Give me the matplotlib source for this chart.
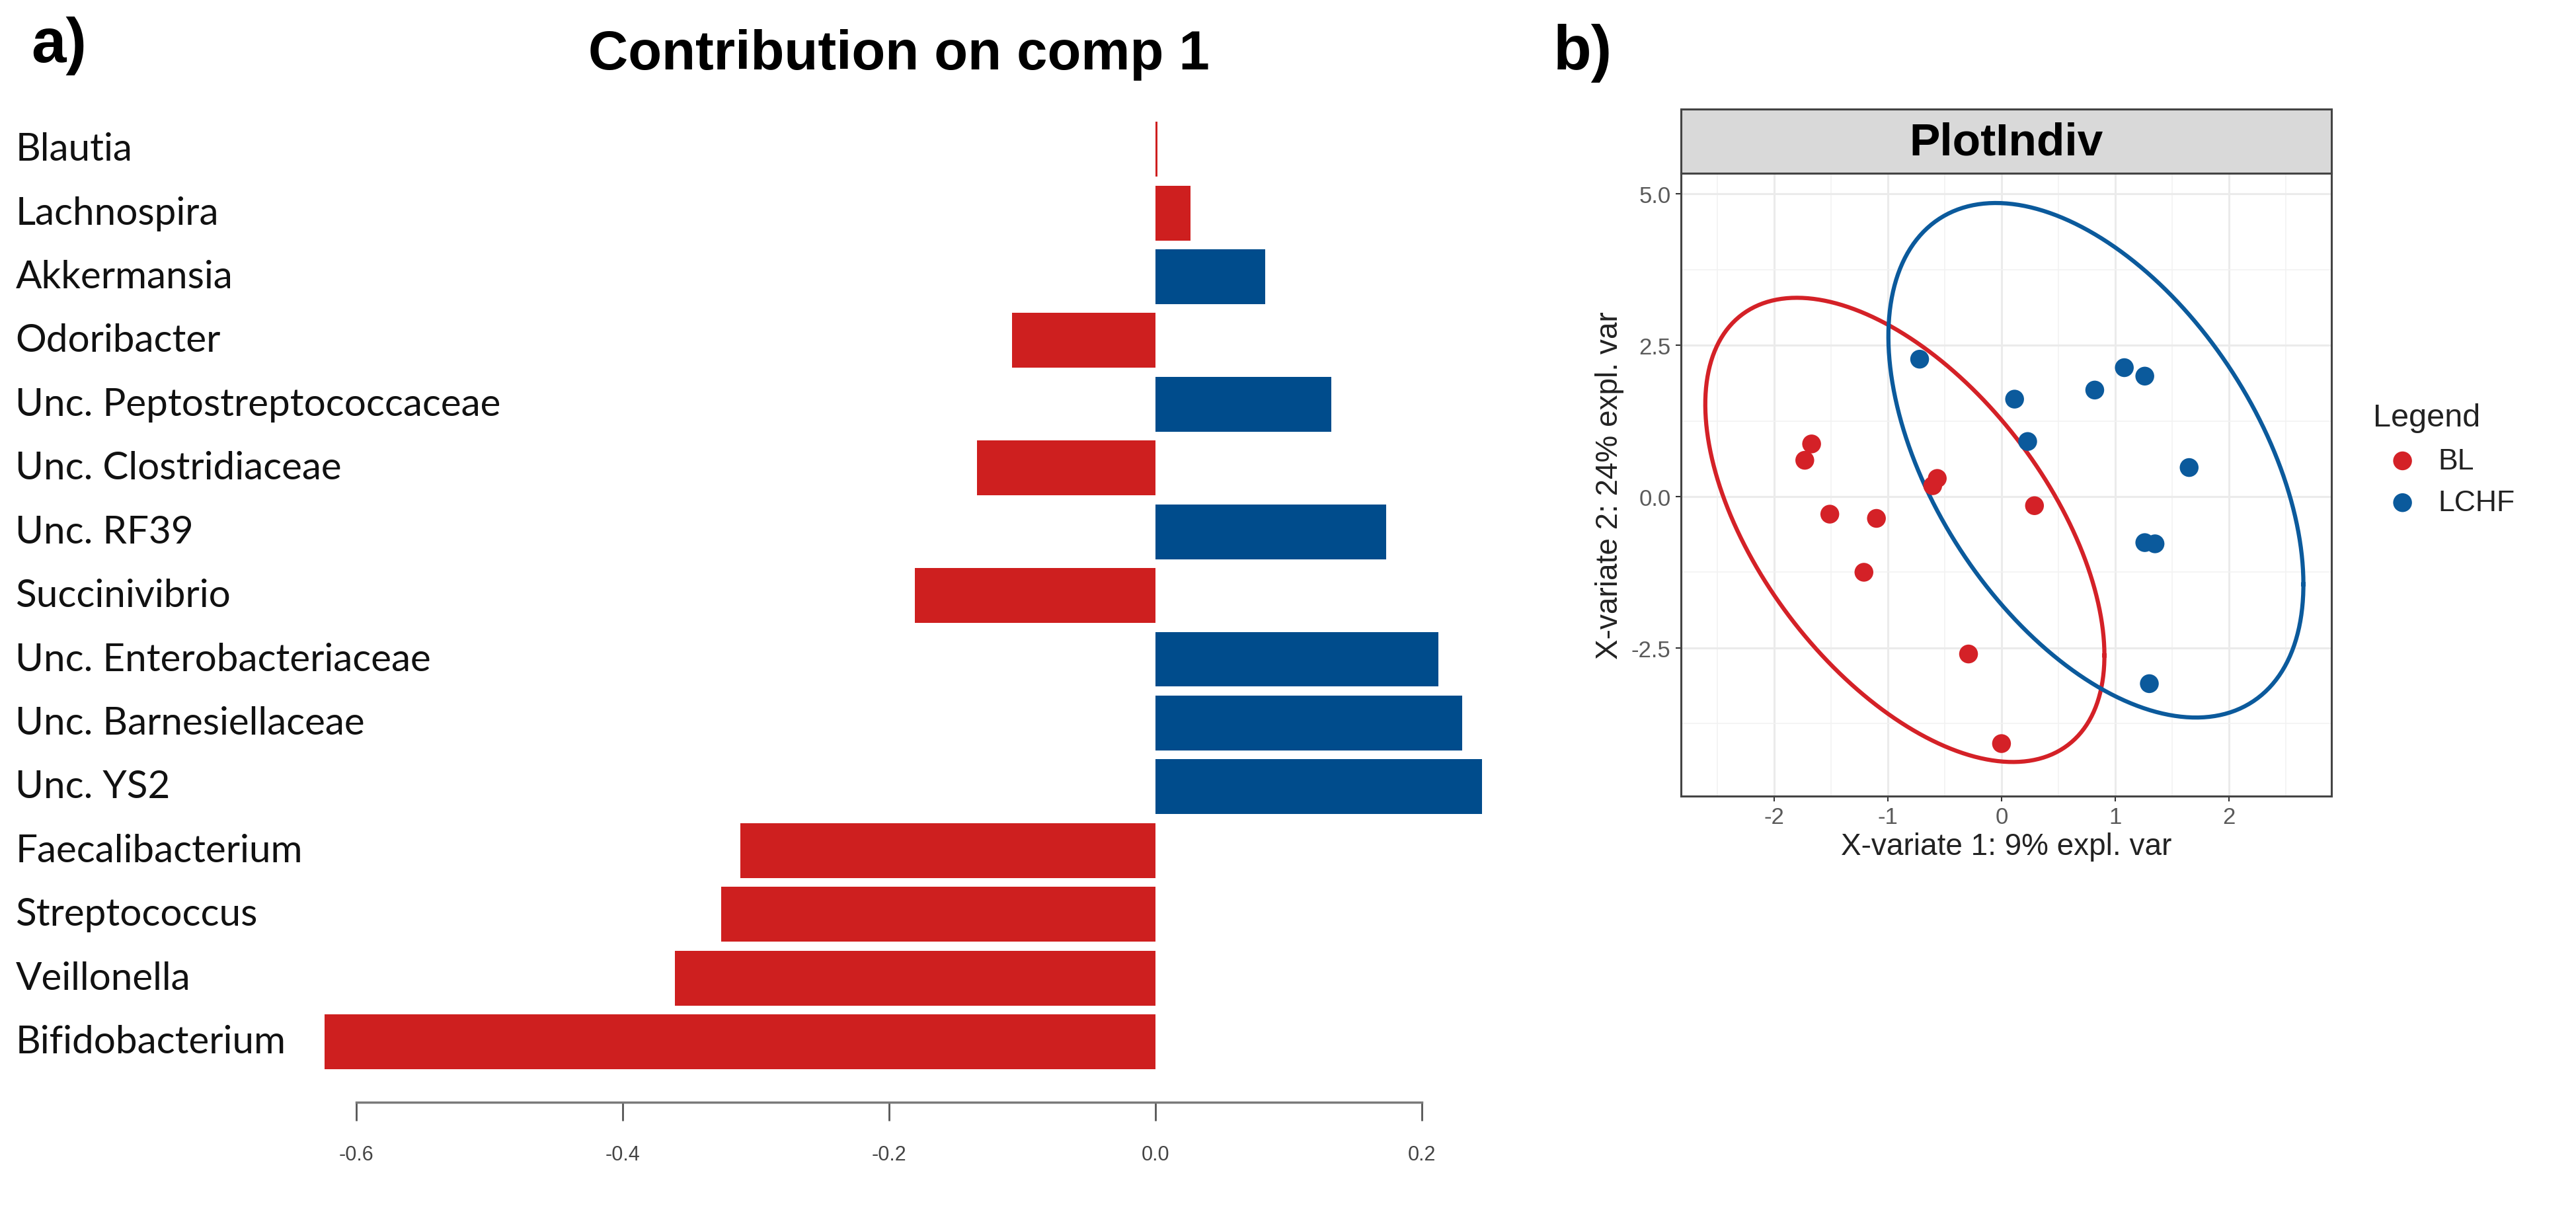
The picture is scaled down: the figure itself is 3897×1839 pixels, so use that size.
import numpy as np
import matplotlib
matplotlib.use("Agg")
import matplotlib.pyplot as plt
import matplotlib.transforms as mtransforms

# Panel a data: loadings on component 1 (top to bottom)
taxa = ["Blautia", "Lachnospira", "Akkermansia", "Odoribacter",
        "Unc. Peptostreptococcaceae", "Unc. Clostridiaceae", "Unc. RF39",
        "Succinivibrio", "Unc. Enterobacteriaceae", "Unc. Barnesiellaceae",
        "Unc. YS2", "Faecalibacterium", "Streptococcus", "Veillonella",
        "Bifidobacterium"]
contrib = [0.0015, 0.026, 0.082, -0.108, 0.132, -0.134, 0.173, -0.181,
           0.212, 0.230, 0.245, -0.312, -0.326, -0.361, -0.624]
group_max = ["BL", "BL", "LCHF", "BL", "LCHF", "BL", "LCHF", "BL",
             "LCHF", "LCHF", "LCHF", "BL", "BL", "BL", "BL"]
xticks_a = [-0.6, -0.4, -0.2, 0.0, 0.2]

# Panel b data: sample scores
bl_x = [-1.73, -1.67, -1.51, -1.10, -1.21, -0.605, -0.565, 0.29, -0.29, 0.0]
bl_y = [0.60, 0.87, -0.29, -0.36, -1.25, 0.18, 0.30, -0.15, -2.60, -4.08]
lchf_x = [-0.72, 0.115, 0.23, 0.82, 1.08, 1.26, 1.65, 1.26, 1.35, 1.30]
lchf_y = [2.27, 1.61, 0.91, 1.76, 2.13, 1.99, 0.48, -0.76, -0.78, -3.09]
# confidence ellipses: centre and covariance-like matrix (xx, xy, yy)
bl_centre = (-0.85, -0.55)
bl_cov = (3.08, -3.64, 14.7)
lchf_centre = (0.83, 0.60)
lchf_cov = (3.33, -3.74, 18.06)

red_bar = "#CE1F1F"
blue_bar = "#004C8C"
red_pt = "#D42127"
blue_pt = "#0B5A9C"

fig = plt.figure(figsize=(38.97, 18.4), dpi=100)

# ---------------- panel a ----------------
ax = fig.add_axes([0.1125, 0.117, 0.4706, 0.786])
ypos = np.arange(len(taxa))[::-1]
cols = [red_bar if g == "BL" else blue_bar for g in group_max]
ax.barh(ypos, contrib, height=0.86, color=cols, edgecolor="none")
ax.set_xlim(-0.65, 0.26)
ax.set_ylim(-0.5, len(taxa) - 0.5)
for s in ["top", "right", "left"]:
    ax.spines[s].set_visible(False)
ax.spines["bottom"].set_position(("outward", 31))
ax.spines["bottom"].set_bounds(-0.6, 0.2)
ax.spines["bottom"].set_color("#7a7a7a")
ax.spines["bottom"].set_linewidth(2.5)
ax.set_xticks(xticks_a)
ax.set_xticklabels(["%.1f" % v for v in xticks_a], family=["Liberation Sans Narrow", "Liberation Sans"],
                   fontsize=22, color="#444444")
ax.tick_params(axis="x", length=20, width=2, color="#555555", pad=26)
ax.set_yticks([])

trans = mtransforms.blended_transform_factory(fig.transFigure, ax.transData)
for name, y in zip(taxa, ypos):
    ax.text(0.006, y, name, transform=trans, ha="left", va="center",
            fontsize=42, family=["Lato", "DejaVu Sans"], color="#111111")

fig.text(0.349, 0.955, "Contribution on comp 1", ha="center", va="center",
         fontsize=60, fontweight="bold", family="Liberation Sans")
fig.text(0.012, 0.962, "a)", ha="left", va="center", fontsize=68,
         fontweight="bold", family="Liberation Sans")
fig.text(0.603, 0.956, "b)", ha="left", va="center", fontsize=68,
         fontweight="bold", family="Liberation Sans")

# ---------------- panel b ----------------
bx = fig.add_axes([0.6525, 0.345, 0.2525, 0.512])
bx.set_xlim(-2.82, 2.90)
bx.set_ylim(-4.95, 5.34)
bx.set_xticks([-2, -1, 0, 1, 2])
bx.set_yticks([-2.5, 0.0, 2.5, 5.0])
bx.set_xticks([-2.5, -1.5, -0.5, 0.5, 1.5, 2.5], minor=True)
bx.set_yticks([-3.75, -1.25, 1.25, 3.75], minor=True)
bx.grid(True, which="major", color="#EBEBEB", linewidth=2.2)
bx.grid(True, which="minor", color="#F2F2F2", linewidth=1.2)
bx.set_axisbelow(True)
bx.tick_params(which="minor", length=0)
bx.tick_params(which="major", length=6, width=1.5, color="#333333",
               labelsize=25, labelcolor="#5a5a5a", pad=5)
bx.set_yticklabels(["-2.5", "0.0", "2.5", "5.0"])
bx.set_xticklabels(["-2", "-1", "0", "1", "2"])
for lab in bx.get_xticklabels() + bx.get_yticklabels():
    lab.set_family("Liberation Sans")
for s in bx.spines.values():
    s.set_color("#444444")
    s.set_linewidth(2.2)

t = np.linspace(0, 2 * np.pi, 400)
for centre, cov, c in [(bl_centre, bl_cov, red_pt), (lchf_centre, lchf_cov, blue_pt)]:
    a, b, d = cov
    L = np.array([[np.sqrt(a), 0.0], [b / np.sqrt(a), np.sqrt(d - b * b / a)]])
    pts = L @ np.vstack([np.cos(t), np.sin(t)])
    bx.plot(pts[0] + centre[0], pts[1] + centre[1], color=c, linewidth=4.5)

bx.scatter(bl_x, bl_y, s=420, color=red_pt, edgecolor="none", label="BL", zorder=3)
bx.scatter(lchf_x, lchf_y, s=420, color=blue_pt, edgecolor="none", label="LCHF", zorder=3)

bx.set_xlabel("X-variate 1: 9% expl. var", fontsize=33, family="Liberation Sans",
              color="#222222", labelpad=4)
bx.set_ylabel("X-variate 2: 24% expl. var", fontsize=33, family="Liberation Sans",
              color="#222222", labelpad=8)

leg = bx.legend(title="Legend", loc="upper left", bbox_to_anchor=(0.911, 0.69),
                bbox_transform=fig.transFigure, frameon=False, fontsize=32,
                title_fontsize=35, handletextpad=0.2, labelspacing=0.5,
                markerscale=1.0)
leg._legend_box.align = "left"
for txt in leg.get_texts():
    txt.set_family("Liberation Sans")
    txt.set_color("#222222")
leg.get_title().set_family("Liberation Sans")
leg.get_title().set_color("#222222")

# strip on top of the panel
sx = fig.add_axes([0.6525, 0.857, 0.2525, 0.053])
sx.set_facecolor("#D9D9D9")
sx.set_xticks([])
sx.set_yticks([])
for s in sx.spines.values():
    s.set_color("#444444")
    s.set_linewidth(2.2)
sx.text(0.5, 0.48, "PlotIndiv", ha="center", va="center", fontsize=50,
        fontweight="bold", family="Liberation Sans", transform=sx.transAxes)

fig.savefig("out.png", dpi=100, facecolor="white")
